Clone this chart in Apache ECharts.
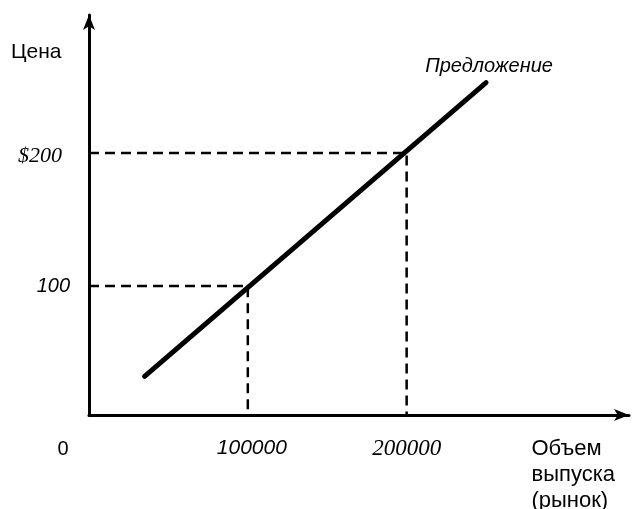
<!DOCTYPE html>
<html><head><meta charset="utf-8">
<script src="https://cdn.jsdelivr.net/npm/echarts@6/dist/echarts.min.js"></script>
<style>html,body{margin:0;padding:0;background:#fff}#c{width:633px;height:509px}</style>
</head><body><div id="c"></div>
<script>
// Supply line end points (quantity, price)
const supplyQty = [35000, 250000];
const supplyPrice = [32, 253];
// Guide lines (dashed) to the axes
const guideQty = [100000, 200000];
const guidePrice = [100, 200];
// Tick labels
const xTicks = [0, 100000, 200000];
const yTicks = [100, 200];
const xTickLabels = ['0', '100000', '200000'];
const yTickLabels = ['100', '$200'];

const Y_MIN = 3, Y_MAX = 303.8, X_MIN = 0, X_MAX = 340000;

const chart = echarts.init(document.getElementById('c'), null, {renderer: 'canvas'});

const guideSeries = guideQty.map((q, i) => ({
  type: 'line', symbol: 'none', silent: true, z: 2,
  lineStyle: {color: '#000', width: 2.5, type: [10, 6]},
  data: [[X_MIN, guidePrice[i]], [q, guidePrice[i]], [q, Y_MIN]]
}));

const supplyData = supplyQty.map((q, i) => [q, supplyPrice[i]]);
const lastIdx = supplyData.length - 1;

chart.setOption({
  animation: false,
  backgroundColor: '#fff',
  grid: {left: 89, right: 4, top: 15, bottom: 94, containLabel: false},
  xAxis: {
    type: 'value', min: X_MIN, max: X_MAX,
    axisLine: {show: true, onZero: false, symbol: ['none', 'arrow'], symbolSize: [9, 15],
      lineStyle: {color: '#000', width: 3}},
    axisTick: {show: false}, splitLine: {show: false},
    axisLabel: {
      customValues: xTicks, margin: 22, color: '#000',
      formatter: v => {
        const i = xTicks.indexOf(v);
        if (i === 0) return '{z|' + xTickLabels[0] + '}';
        if (i === 1) return '{a|' + xTickLabels[1] + '}';
        if (i === 2) return '{b|' + xTickLabels[2] + '}';
        return '';
      },
      rich: {
        z: {fontFamily: 'Liberation Sans', fontSize: 20, color: '#000', padding: [2, 52, 0, 0]},
        a: {fontFamily: 'Liberation Sans', fontStyle: 'italic', fontSize: 21, color: '#000', padding: [1, 0, 0, 8]},
        b: {fontFamily: 'Liberation Serif', fontStyle: 'italic', fontSize: 23, color: '#000', padding: [0, 0, 0, 0]}
      }
    }
  },
  yAxis: {
    type: 'value', min: Y_MIN, max: Y_MAX,
    axisLine: {show: true, onZero: false, symbol: ['none', 'arrow'], symbolSize: [9, 15],
      lineStyle: {color: '#000', width: 3}},
    axisTick: {show: false}, splitLine: {show: false},
    axisLabel: {
      customValues: yTicks, margin: 8, color: '#000',
      formatter: v => {
        const i = yTicks.indexOf(v);
        if (i === 0) return '{n|' + yTickLabels[0] + '}';
        if (i === 1) return '{s|' + yTickLabels[1] + '}';
        return '';
      },
      rich: {
        n: {fontFamily: 'Liberation Sans', fontStyle: 'italic', fontSize: 20, color: '#000', padding: [0, 11, 0, 0]},
        s: {fontFamily: 'Liberation Serif', fontStyle: 'italic', fontSize: 22, color: '#000', padding: [6, 19, 0, 0]}
      }
    }
  },
  graphic: [
    {type: 'text', left: 11, top: 42, style: {text: 'Цена', font: '21px "Liberation Sans"', fill: '#000'}},
    {type: 'text', right: 18, top: 436, style: {text: 'Объем\nвыпуска\n(рынок)', font: '22px "Liberation Sans"',
      fill: '#000', align: 'right', lineHeight: 26}}
  ],
  series: guideSeries.concat([{
    type: 'line', symbol: 'circle', symbolSize: 1, showSymbol: true, z: 3,
    itemStyle: {color: '#000'},
    lineStyle: {color: '#000', width: 5, cap: 'round'},
    label: {show: true, position: 'top', distance: 6, offset: [3, 0],
      formatter: p => p.dataIndex === lastIdx ? 'Предложение' : '',
      fontFamily: 'Liberation Sans', fontStyle: 'italic', fontSize: 20, color: '#000'},
    data: supplyData
  }])
});
</script></body></html>
